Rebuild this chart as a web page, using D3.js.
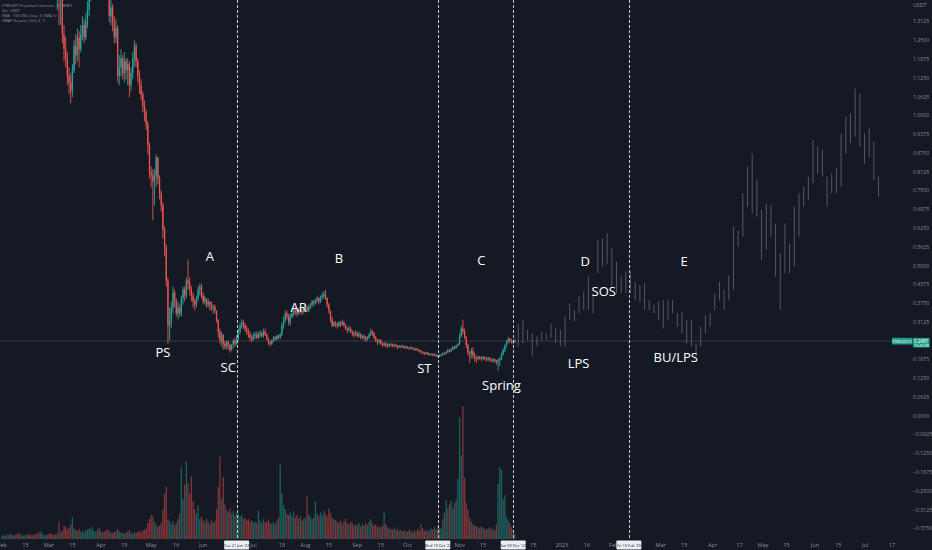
<!DOCTYPE html>
<meta charset="utf-8">
<style>
html,body {
  overflow:hidden;
  padding:0px;
  margin:0px;
  background-color:#151924;
}
svg { display:block; font-family:"Open Sans", sans-serif; }
</style>
<body>
<svg></svg>
</body>
<script src="https://cdn.jsdelivr.net/npm/d3@7"></script>
<script>

// daily FTMUSDT.P candles, one value per day from startDay
var startDay = "2022-02-01";

var closes = [
  1.89,1.95,1.84,2.02,2.15,2.28,2.20,2.05,2.12,1.98,
  1.86,1.80,1.83,1.89,1.96,1.90,1.72,1.64,1.68,1.58,
  1.55,1.48,1.45,1.52,1.58,1.63,1.60,1.72,1.68,1.62,
  1.56,1.50,1.44,1.46,1.40,1.41,1.27,1.22,1.19,1.13,
  1.11,1.08,1.15,1.23,1.20,1.26,1.22,1.27,1.30,1.26,
  1.31,1.35,1.42,1.48,1.55,1.60,1.66,1.62,1.68,1.65,
  1.72,1.66,1.58,1.42,1.33,1.36,1.31,1.26,1.29,1.13,
  1.16,1.19,1.14,1.18,1.15,1.17,1.10,1.14,1.19,1.23,
  1.18,1.13,1.10,1.07,1.03,1.01,0.97,0.90,0.81,0.80,
  0.78,0.80,0.86,0.79,0.74,0.70,0.62,0.56,0.45,0.30,
  0.31,0.36,0.41,0.38,0.34,0.36,0.34,0.39,0.42,0.40,
  0.45,0.44,0.42,0.40,0.38,0.37,0.39,0.42,0.43,0.40,
  0.38,0.39,0.37,0.38,0.37,0.36,0.362,0.35,0.32,0.28,
  0.25,0.27,0.24,0.23,0.245,0.235,0.22,0.235,0.25,0.24,
  0.255,0.28,0.30,0.31,0.30,0.29,0.28,0.27,0.26,0.255,
  0.265,0.27,0.26,0.27,0.275,0.265,0.28,0.27,0.255,0.245,
  0.24,0.25,0.26,0.255,0.265,0.26,0.27,0.30,0.32,0.34,
  0.33,0.31,0.33,0.34,0.35,0.345,0.34,0.355,0.35,0.345,
  0.355,0.36,0.35,0.365,0.37,0.38,0.375,0.385,0.39,0.38,
  0.395,0.40,0.405,0.39,0.37,0.35,0.32,0.30,0.31,0.305,
  0.30,0.31,0.305,0.31,0.30,0.29,0.285,0.29,0.28,0.275,
  0.27,0.275,0.265,0.27,0.26,0.265,0.26,0.255,0.26,0.27,
  0.28,0.275,0.26,0.25,0.245,0.25,0.24,0.235,0.24,0.235,
  0.232,0.238,0.235,0.233,0.236,0.232,0.228,0.232,0.229,0.231,
  0.227,0.229,0.226,0.224,0.227,0.223,0.22,0.222,0.219,0.215,
  0.212,0.209,0.207,0.21,0.206,0.203,0.205,0.202,0.204,0.20,
  0.198,0.20,0.203,0.208,0.206,0.212,0.218,0.215,0.222,0.228,
  0.225,0.232,0.238,0.265,0.29,0.28,0.26,0.235,0.21,0.205,
  0.215,0.20,0.193,0.19,0.196,0.192,0.19,0.195,0.19,0.187,
  0.192,0.186,0.183,0.188,0.182,0.178,0.184,0.19,0.205,0.218,
  0.232,0.245,0.255,0.25,0.246,0.244,0.2485
];

var highs = [
  1.95,2.01,1.97,2.06,2.20,2.35,2.33,2.22,2.18,2.14,
  2.02,1.90,1.87,1.93,2.00,1.98,1.92,1.75,1.71,1.70,
  1.62,1.59,1.53,1.56,1.62,1.68,1.67,1.76,1.78,1.70,
  1.64,1.58,1.52,1.52,1.48,1.45,1.42,1.30,1.26,1.21,
  1.16,1.14,1.17,1.25,1.27,1.29,1.28,1.30,1.33,1.32,
  1.34,1.38,1.46,1.52,1.60,1.64,1.70,1.69,1.72,1.71,
  1.76,1.74,1.68,1.59,1.44,1.39,1.37,1.33,1.32,1.30,
  1.20,1.22,1.20,1.21,1.19,1.19,1.18,1.16,1.21,1.25,
  1.24,1.19,1.15,1.12,1.08,1.05,1.02,0.98,0.91,0.83,
  0.82,0.82,0.87,0.85,0.80,0.75,0.71,0.63,0.57,0.46,
  0.36,0.38,0.43,0.42,0.39,0.38,0.37,0.40,0.43,0.43,
  0.46,0.52,0.46,0.43,0.41,0.39,0.40,0.43,0.44,0.44,
  0.41,0.40,0.39,0.39,0.38,0.38,0.37,0.37,0.35,0.32,
  0.29,0.28,0.27,0.25,0.25,0.25,0.24,0.24,0.255,0.26,
  0.27,0.29,0.31,0.32,0.32,0.31,0.30,0.29,0.28,0.27,
  0.275,0.28,0.28,0.28,0.285,0.28,0.29,0.29,0.275,0.26,
  0.25,0.255,0.265,0.265,0.27,0.27,0.275,0.31,0.33,0.35,
  0.35,0.34,0.34,0.355,0.36,0.36,0.355,0.36,0.36,0.355,
  0.36,0.37,0.365,0.37,0.375,0.385,0.385,0.39,0.40,0.395,
  0.40,0.41,0.415,0.42,0.395,0.375,0.35,0.33,0.315,0.315,
  0.31,0.315,0.315,0.32,0.315,0.305,0.295,0.30,0.295,0.285,
  0.28,0.285,0.28,0.28,0.275,0.27,0.27,0.265,0.265,0.275,
  0.29,0.285,0.28,0.265,0.255,0.255,0.255,0.245,0.245,0.245,
  0.24,0.242,0.242,0.24,0.24,0.238,0.236,0.236,0.235,0.236,
  0.233,0.234,0.231,0.229,0.231,0.229,0.226,0.227,0.224,0.221,
  0.218,0.215,0.212,0.213,0.212,0.209,0.208,0.207,0.208,0.206,
  0.203,0.204,0.206,0.21,0.211,0.215,0.222,0.221,0.226,0.232,
  0.233,0.236,0.242,0.275,0.30,0.32,0.29,0.265,0.24,0.215,
  0.225,0.228,0.21,0.198,0.20,0.199,0.197,0.199,0.198,0.194,
  0.196,0.195,0.19,0.192,0.19,0.186,0.19,0.195,0.21,0.225,
  0.238,0.25,0.262,0.26,0.256,0.253,0.256
];

var lows = [
  1.82,1.86,1.80,1.83,2.00,2.12,2.15,1.98,2.01,1.93,
  1.80,1.74,1.76,1.80,1.87,1.85,1.68,1.60,1.61,1.55,
  1.47,1.44,1.41,1.40,1.49,1.55,1.57,1.58,1.64,1.58,
  1.52,1.46,1.40,1.35,1.30,1.30,1.24,1.18,1.16,1.10,
  1.07,1.04,1.06,1.14,1.17,1.18,1.16,1.21,1.25,1.24,
  1.25,1.29,1.33,1.38,1.45,1.52,1.57,1.58,1.59,1.60,
  1.62,1.63,1.52,1.40,1.31,1.30,1.28,1.24,1.24,1.11,
  1.10,1.13,1.12,1.11,1.12,1.10,1.06,1.08,1.12,1.16,
  1.16,1.11,1.07,1.05,1.01,0.98,0.95,0.87,0.79,0.76,
  0.65,0.70,0.76,0.77,0.72,0.68,0.59,0.53,0.43,0.24,
  0.25,0.29,0.34,0.36,0.33,0.32,0.33,0.33,0.37,0.38,
  0.39,0.42,0.40,0.38,0.36,0.35,0.36,0.38,0.40,0.39,
  0.37,0.37,0.36,0.36,0.35,0.35,0.34,0.34,0.31,0.26,
  0.24,0.23,0.22,0.22,0.22,0.22,0.21,0.215,0.225,0.23,
  0.235,0.25,0.27,0.29,0.29,0.28,0.27,0.26,0.25,0.245,
  0.25,0.255,0.255,0.255,0.26,0.26,0.26,0.265,0.25,0.235,
  0.23,0.235,0.245,0.25,0.25,0.255,0.255,0.265,0.29,0.31,
  0.32,0.30,0.30,0.325,0.33,0.335,0.33,0.335,0.34,0.335,
  0.34,0.345,0.345,0.345,0.355,0.36,0.365,0.37,0.375,0.37,
  0.375,0.385,0.39,0.385,0.36,0.34,0.31,0.295,0.295,0.295,
  0.29,0.295,0.295,0.30,0.295,0.285,0.275,0.28,0.275,0.265,
  0.26,0.265,0.26,0.26,0.255,0.255,0.25,0.245,0.25,0.255,
  0.265,0.265,0.255,0.245,0.235,0.24,0.235,0.23,0.23,0.228,
  0.225,0.228,0.23,0.228,0.229,0.226,0.222,0.225,0.224,0.226,
  0.222,0.223,0.222,0.219,0.221,0.219,0.216,0.216,0.214,0.21,
  0.207,0.204,0.202,0.203,0.201,0.199,0.20,0.197,0.198,0.196,
  0.194,0.195,0.197,0.20,0.202,0.204,0.209,0.21,0.212,0.218,
  0.219,0.223,0.232,0.236,0.26,0.27,0.255,0.225,0.20,0.175,
  0.19,0.19,0.18,0.175,0.185,0.186,0.182,0.186,0.184,0.18,
  0.183,0.18,0.177,0.178,0.175,0.17,0.15,0.165,0.185,0.20,
  0.212,0.228,0.24,0.243,0.24,0.238,0.243
];

// volume, million USDT
var volumes = [
  25,30,22,35,28,40,33,26,30,38,
  45,32,28,24,30,36,29,34,27,31,
  40,35,48,55,42,30,28,33,38,44,
  36,29,34,41,130,50,60,100,90,70,
  85,110,165,80,70,60,75,55,60,50,
  65,70,80,75,90,60,55,70,85,60,
  50,55,65,70,60,50,45,55,60,75,
  55,50,45,40,50,55,65,45,40,50,
  45,55,60,50,65,70,80,120,150,180,
  170,130,110,90,100,120,225,340,390,150,
  135,110,135,105,120,150,190,540,300,410,
  585,420,340,470,285,225,190,255,150,170,
  140,120,150,130,110,140,120,135,225,390,
  620,300,465,260,220,200,230,190,210,180,
  200,190,170,180,150,160,140,150,130,140,
  120,130,120,215,140,120,150,125,130,145,
  120,115,130,110,140,160,560,340,255,225,
  190,180,200,170,210,160,180,150,170,140,
  150,160,320,180,170,150,160,285,190,170,
  200,180,210,190,170,230,200,160,150,140,
  130,120,140,110,130,150,120,110,130,120,
  100,110,100,120,90,110,100,120,105,130,
  150,120,100,110,90,95,85,100,200,110,
  90,80,75,70,85,65,75,60,70,55,
  65,60,55,70,60,50,65,55,75,60,
  110,80,60,70,55,65,80,70,90,75,
  100,85,80,150,200,290,230,260,290,230,
  270,300,450,915,630,1000,460,270,220,160,
  130,110,100,95,90,80,95,85,75,70,
  80,90,70,80,65,110,420,540,520,300,
  330,165,140,120,90,70,40
];

// projected "bars pattern" drawn after the last candle
var projStart = "2022-12-06";
var projStepHours = 67;
var projHighs = [
  0.307,0.319,0.285,0.274,0.263,0.280,0.274,0.307,0.291,0.285,
  0.330,0.374,0.352,0.396,0.413,0.463,0.407,0.585,0.590,0.607,
  0.557,0.513,0.463,0.480,0.480,0.446,0.435,0.441,0.385,0.369,
  0.380,0.385,0.385,0.385,0.341,0.346,0.319,0.319,0.241,0.296,
  0.335,0.341,0.407,0.446,0.419,0.468,0.629,0.618,0.740,0.829,
  0.873,0.785,0.685,0.707,0.701,0.640,0.541,0.640,0.574,0.696,
  0.740,0.762,0.796,0.918,0.896,0.885,0.796,0.807,0.824,0.940,
  0.995,1.007,1.090,1.073,0.940,0.957,0.912,0.796
];
var projLows = [
  0.230,0.241,0.252,0.197,0.230,0.252,0.252,0.258,0.241,0.230,
  0.230,0.319,0.313,0.341,0.352,0.352,0.341,0.474,0.496,0.507,
  0.430,0.407,0.407,0.407,0.407,0.385,0.380,0.352,0.352,0.341,
  0.319,0.291,0.319,0.341,0.296,0.274,0.241,0.230,0.197,0.230,
  0.274,0.296,0.352,0.385,0.352,0.385,0.419,0.563,0.596,0.696,
  0.674,0.663,0.518,0.552,0.596,0.463,0.352,0.474,0.474,0.496,
  0.596,0.696,0.718,0.774,0.807,0.796,0.696,0.740,0.740,0.762,
  0.873,0.907,0.929,0.896,0.840,0.862,0.785,0.729
];

// phase separators
var phaseDates = ["2022-06-21","2022-10-19","2022-12-03","2023-02-10"];
var phaseTags = ["Tue 21 Jun '22","Wed 19 Oct '22","Sat 03 Dec '22","Fri 10 Feb '23"];

// Wyckoff annotations anchored at (date, price)
var noteText  = ["PS","A","SC","AR","B","ST","C","Spring","LPS","D","SOS","E","BU/LPS"];
var noteDate  = ["2022-05-08","2022-06-05","2022-06-16","2022-07-28","2022-08-21","2022-10-11",
                 "2022-11-14","2022-11-26","2023-01-11","2023-01-15","2023-01-26","2023-03-15","2023-03-10"];
var notePrice = [0.212,0.532,0.162,0.362,0.525,0.159,0.518,0.102,0.175,0.515,0.415,0.515,0.195];

// time axis
var tickDates = ["2022-02-01","2022-02-15","2022-03-01","2022-03-15","2022-04-01","2022-04-15",
  "2022-05-01","2022-05-16","2022-06-01","2022-07-01","2022-07-18","2022-08-01","2022-08-15",
  "2022-09-01","2022-09-15","2022-10-01","2022-11-01","2022-11-15","2022-12-15","2023-01-01",
  "2023-01-16","2023-02-01","2023-03-01","2023-03-15","2023-04-01","2023-04-17","2023-05-01",
  "2023-05-15","2023-06-01","2023-06-15","2023-07-01","2023-07-17"];
var tickTexts = ["Feb","15","Mar","15","Apr","15","May","16","Jun","Jul","18","Aug","15",
  "Sep","15","Oct","Nov","15","15","2023","16","Feb","Mar","15","Apr","17","May","15",
  "Jun","15","Jul","17"];

var lastPrice = 0.2485;
var legendLines = ["FTMUSDT Perpetual Contracts, 1D, BYBIT","Vol · USDT",
  "EMA · 100 (200, close, 0, EMA, 5)","VWAP (Session, hlc3, 0, 1)"];

var W = 932, H = 550, plotRight = 905, plotBottom = 539;
var up = "#26a69a", down = "#ef5350";

var svg = d3.select("svg").attr("width", W).attr("height", H);
svg.append("rect").attr("width", W).attr("height", H).attr("fill", "#151924");

var parse = d3.utcParse("%Y-%m-%d");
var day0 = parse(startDay);
var candles = closes.map(function(c, i) {
  var o = i ? closes[i - 1] : c;
  return { date: d3.utcDay.offset(day0, i), open: o, close: c,
           high: Math.max(highs[i], o, c), low: Math.min(lows[i], o, c), vol: volumes[i] };
});

var x = d3.scaleUtc().domain([parse("2022-02-01"), parse("2023-07-17")]).range([2, 892]);
var y = d3.scaleLinear().domain([0, 0.5]).range([415.7, 265.5]);
var yv = d3.scaleLinear().domain([0, 1000]).range([plotBottom, plotBottom - 133]);

svg.append("clipPath").attr("id", "plot")
  .append("rect").attr("width", plotRight).attr("height", plotBottom);
var plot = svg.append("g").attr("clip-path", "url(#plot)");

// volume
plot.selectAll(".vol").data(candles).enter().append("rect")
  .attr("x", function(d) { return x(d.date) - 0.65; })
  .attr("width", 1.3)
  .attr("y", function(d) { return yv(d.vol); })
  .attr("height", function(d) { return plotBottom - yv(d.vol); })
  .attr("fill", function(d) { return d.close >= d.open ? up : down; })
  .attr("fill-opacity", 0.5);

// last price line
plot.append("line").attr("x1", 0).attr("x2", 892)
  .attr("y1", y(lastPrice)).attr("y2", y(lastPrice))
  .attr("stroke", "rgba(120,123,134,0.35)").attr("stroke-width", 1);

// candles
var cg = plot.selectAll(".candle").data(candles).enter().append("g");
cg.append("line")
  .attr("x1", function(d) { return x(d.date); })
  .attr("x2", function(d) { return x(d.date); })
  .attr("y1", function(d) { return y(d.high); })
  .attr("y2", function(d) { return y(d.low); })
  .attr("stroke", function(d) { return d.close >= d.open ? up : down; })
  .attr("stroke-width", 0.9);
cg.append("rect")
  .attr("x", function(d) { return x(d.date) - 0.65; })
  .attr("width", 1.3)
  .attr("y", function(d) { return y(Math.max(d.open, d.close)); })
  .attr("height", function(d) { return Math.max(1, Math.abs(y(d.open) - y(d.close))); })
  .attr("fill", function(d) { return d.close >= d.open ? up : down; });

// projected bars
var p0 = parse(projStart);
plot.selectAll(".proj").data(projHighs).enter().append("line")
  .attr("x1", function(d, i) { return x(d3.utcHour.offset(p0, i * projStepHours)); })
  .attr("x2", function(d, i) { return x(d3.utcHour.offset(p0, i * projStepHours)); })
  .attr("y1", function(d) { return y(d); })
  .attr("y2", function(d, i) { return y(projLows[i]); })
  .attr("stroke", "#6a6e7a").attr("stroke-opacity", 0.75).attr("stroke-width", 1);

// phase separators
phaseDates.forEach(function(s) {
  var px = Math.round(x(parse(s))) + 0.5;
  svg.append("line").attr("x1", px).attr("x2", px).attr("y1", 0).attr("y2", plotBottom)
    .attr("stroke", "#c9cbd1").attr("stroke-width", 1).attr("stroke-dasharray", "3,2");
});

// annotations
noteText.forEach(function(t, i) {
  svg.append("text").attr("x", x(parse(noteDate[i]))).attr("y", y(notePrice[i]))
    .attr("text-anchor", "middle").attr("dominant-baseline", "central")
    .attr("font-size", 13).attr("fill", "#ffffff").text(t);
});

// legend
legendLines.forEach(function(t, i) {
  svg.append("text").attr("x", 2).attr("y", 6.5 + i * 5.1)
    .attr("font-size", 3.7).attr("fill", "#9598a1").text(t);
});

// price scale
var priceTicks = d3.range(-6, 22).map(function(k) { return k * 0.0625; });
svg.selectAll(".ptick").data(priceTicks).enter().append("text")
  .attr("x", 913).attr("y", function(d) { return y(d); })
  .attr("dominant-baseline", "central")
  .attr("font-size", 5.2).attr("fill", "#8a8e98")
  .text(function(d) { return (d < 0 ? "\u2212" : "") + Math.abs(d).toFixed(4); });
svg.append("text").attr("x", 913).attr("y", 4.5).attr("dominant-baseline", "central")
  .attr("font-size", 5.2).attr("fill", "#8a8e98").text("USDT");

// last price tag
var ly = y(lastPrice);
svg.append("rect").attr("x", 892).attr("y", ly - 3.2).attr("width", 20.5).attr("height", 6.6)
  .attr("fill", "#22a08c");
svg.append("text").attr("x", 902.2).attr("y", ly + 0.1).attr("text-anchor", "middle")
  .attr("dominant-baseline", "central").attr("font-size", 3.6).attr("fill", "#ffffff").text("FTMUSDT.P");
svg.append("rect").attr("x", 913).attr("y", ly - 3.2).attr("width", 16.5).attr("height", 9.6)
  .attr("fill", "#22a08c");
svg.append("text").attr("x", 914).attr("y", ly).attr("dominant-baseline", "central")
  .attr("font-size", 4.4).attr("fill", "#ffffff").text(lastPrice.toFixed(4));
svg.append("text").attr("x", 914).attr("y", ly + 4.5).attr("dominant-baseline", "central")
  .attr("font-size", 3.8).attr("fill", "#e8fff8").text("15:40:08");

// time axis
tickDates.forEach(function(s, i) {
  svg.append("text").attr("x", x(parse(s))).attr("y", 545).attr("text-anchor", "middle")
    .attr("dominant-baseline", "central").attr("font-size", 5.6).attr("fill", "#8a8e98")
    .text(tickTexts[i]);
});
phaseDates.forEach(function(s, i) {
  var px = x(parse(s));
  svg.append("rect").attr("x", px - 12.5).attr("y", 540.5).attr("width", 25).attr("height", 9)
    .attr("rx", 1).attr("fill", "#eceef2");
  svg.append("text").attr("x", px).attr("y", 545).attr("text-anchor", "middle")
    .attr("dominant-baseline", "central").attr("font-size", 3.9).attr("fill", "#131722")
    .text(phaseTags[i]);
});

</script>
